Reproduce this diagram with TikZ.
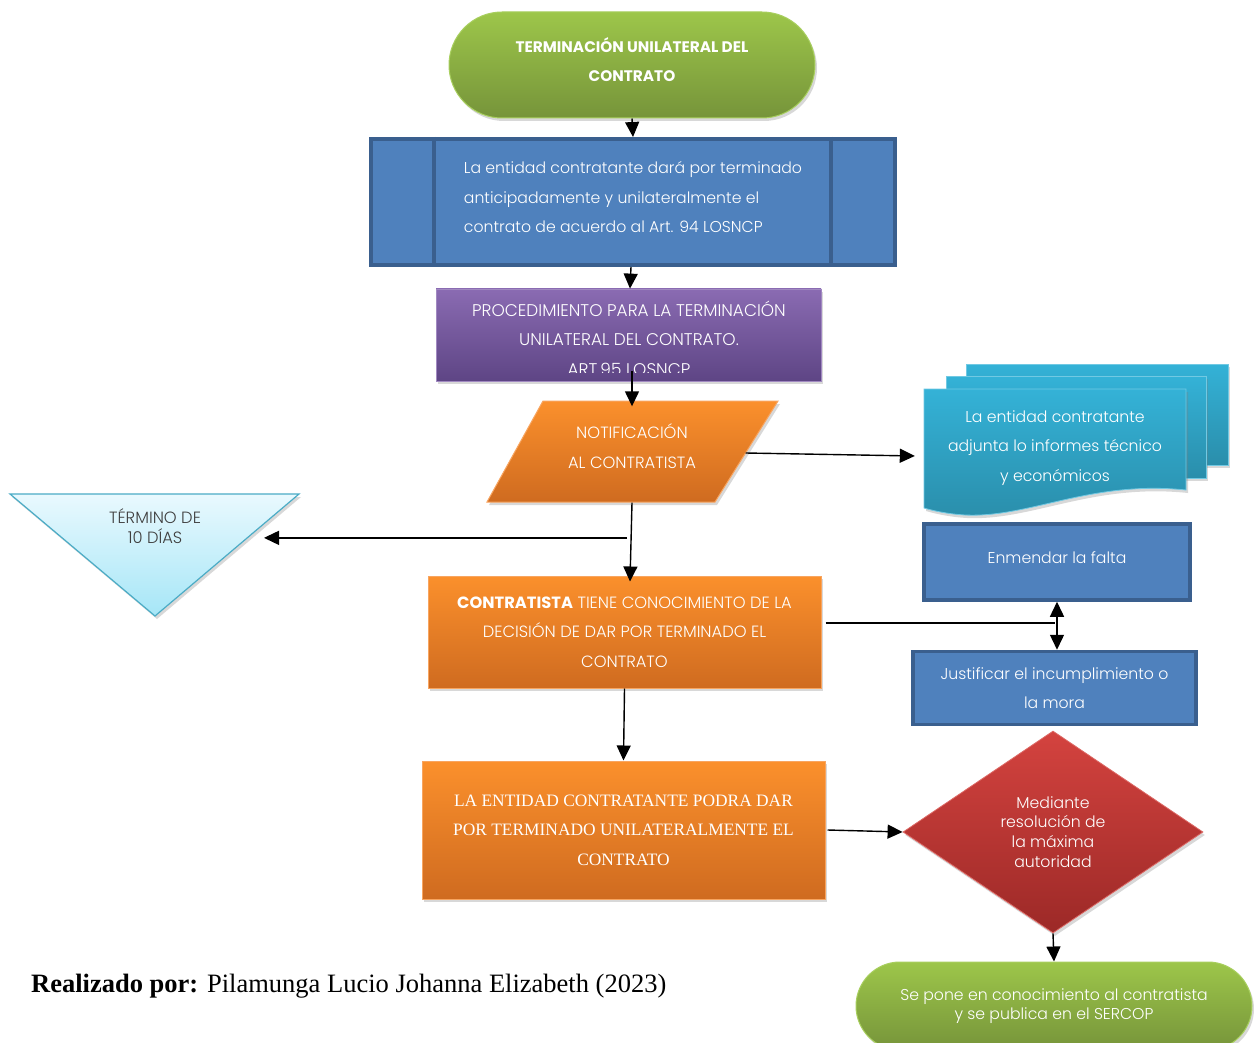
\documentclass[tikz,border=0pt]{standalone}
\usepackage{fontspec}
\setmainfont{Poppins}[UprightFont=* Light, BoldFont=* Bold]
\newfontfamily\serif{Liberation Serif}
\usetikzlibrary{arrows.meta,shapes.geometric,shadows,calc}
\definecolor{grtop}{HTML}{9DC64A}
\definecolor{grbot}{HTML}{76943A}
\definecolor{grline}{HTML}{A8CF5E}
\definecolor{bfill}{HTML}{4F81BD}
\definecolor{bline}{HTML}{3A5F8E}
\definecolor{pttop}{HTML}{8A6BB2}
\definecolor{ptbot}{HTML}{5E4585}
\definecolor{ortop}{HTML}{FB902C}
\definecolor{orbot}{HTML}{CF6B20}
\definecolor{orline}{HTML}{F8A560}
\definecolor{rdtop}{HTML}{D4433F}
\definecolor{rdbot}{HTML}{9C2927}
\definecolor{cytop}{HTML}{34B2D7}
\definecolor{cybot}{HTML}{2A8EAB}
\definecolor{tritop}{HTML}{E9F9FE}
\definecolor{tribot}{HTML}{A6E6F7}
\definecolor{triline}{HTML}{4BACC6}
\definecolor{txtgray}{HTML}{3F3F3F}
\begin{document}
\begin{tikzpicture}[x=1pt,y=-1pt,
  myshadow/.style={drop shadow={shadow xshift=2pt,shadow yshift=-3pt,opacity=0.3}},
  body/.style={font={\fontsize{15.7}{29.5}\selectfont}},
  caps/.style={font={\fontsize{16.3}{29.5}\selectfont}},
  txtw/.style={text=white, align=center, body, inner sep=0pt},
  greenterm/.style={txtw, top color=grtop, bottom color=grbot, draw=grline, line width=1pt, myshadow},
  bluebox/.style={txtw, fill=bfill, draw=bline, line width=4pt},
  purplebox/.style={top color=pttop, bottom color=ptbot, draw=pttop!80!white, line width=0.8pt, myshadow},
  orangebox/.style={txtw, top color=ortop, bottom color=orbot, draw=orline, line width=1pt, myshadow},
  orangeshape/.style={top color=ortop, bottom color=orbot, draw=orline, line width=1pt, myshadow},
  cyanshape/.style={top color=cytop, bottom color=cybot, draw=cytop!70!white, line width=0.8pt, myshadow},
  arr/.style={-{Triangle[length=15pt,width=14pt]}, line width=1.4pt},
  darr/.style={{Triangle[length=15pt,width=14pt]}-{Triangle[length=15pt,width=14pt]}, line width=1.4pt},
  plain/.style={line width=1.4pt}
]
\useasboundingbox (0,0) rectangle (1254,1043);
\fill[white] (0,0) rectangle (1254,1043);

% top terminator
\node[greenterm, minimum width=366pt, minimum height=106pt, rounded corners=53pt, text depth=10pt,
  font={\bfseries\fontsize{15.3}{29}\selectfont}] (start) at (632,65) {TERMINACIÓN UNILATERAL DEL\\CONTRATO};

% predefined process box
\node[bluebox, minimum width=524pt, minimum height=126pt, align=left, text depth=10pt] (art94) at (633,202)
  {La entidad contratante dará por terminado\\anticipadamente y unilateralmente el\\contrato de acuerdo al Art. 94 LOSNCP};
\draw[bline, line width=4pt] ([xshift=65pt]art94.north west) -- ([xshift=65pt]art94.south west);
\draw[bline, line width=4pt] ([xshift=-66pt]art94.north east) -- ([xshift=-66pt]art94.south east);

% purple box
\node[purplebox, minimum width=385pt, minimum height=92pt] (proc) at (628.5,335) {};
\begin{scope}
  \clip (proc.north west) rectangle ([yshift=9pt]proc.south east);
  \node[txtw, font={\fontsize{16.9}{29.5}\selectfont}] (proctxt) at (629,338) {PROCEDIMIENTO PARA LA TERMINACIÓN\\UNILATERAL DEL CONTRATO.\\ART.95 LOSNCP};
\end{scope}

% parallelogram
\path[orangeshape] (543,401) -- (778,401) -- (715,502) -- (487,502) -- cycle;
\node[txtw, caps, minimum width=291pt, minimum height=101pt, text depth=8pt] (notif) at (632,450) {NOTIFICACIÓN\\AL CONTRATISTA};

% multi document
\path[cyanshape] (966,364) -- (1228,364) -- (1228,465) -- (966,465) -- cycle;
\path[cyanshape] (946,376) -- (1206,376) -- (1206,478) -- (946,478) -- cycle;
\path[cyanshape] (924,389) -- (1186,389) -- (1186,490)
  .. controls (1090,480) and (1030,518) .. (965,515)
  .. controls (948,514) and (934,511) .. (924,508) -- cycle;
\node[txtw, minimum width=262pt, minimum height=100pt] (doc) at (1055,448)
  {La entidad contratante\\adjunta lo informes técnico\\y económicos};

% triangle
\path[top color=tritop, bottom color=tribot, draw=triline, line width=1.2pt, myshadow]
  (10,494) -- (299,494) -- (155,616) -- cycle;
\node[text=txtgray, align=center, inner sep=0pt, font={\fontsize{16.3}{20}\selectfont}] (term) at (155,526) {TÉRMINO DE\\10 DÍAS};
\coordinate (termtip) at (264,540);

% contratista box
\node[orangebox, caps, minimum width=393pt, minimum height=112pt] (cono) at (624.5,632)
  {\textbf{CONTRATISTA} TIENE CONOCIMIENTO DE LA\\DECISIÓN DE DAR POR TERMINADO EL\\CONTRATO};

% enmendar / justificar
\node[bluebox, line width=3.5pt, minimum width=266pt, minimum height=76pt, text depth=8pt] (enm) at (1057,562) {Enmendar la falta};
\node[bluebox, line width=3.5pt, minimum width=283pt, minimum height=73pt] (jus) at (1054.5,688) {Justificar el incumplimiento o\\la mora};
\coordinate (hj) at (1055,623);

% entidad box
\node[orangebox, minimum width=403pt, minimum height=138pt,
  font={\serif\fontsize{17.4}{29.5}\selectfont}] (ent) at (623.5,830)
  {LA ENTIDAD CONTRATANTE PODRA DAR\\POR TERMINADO UNILATERALMENTE EL\\CONTRATO};

% diamond
\node[diamond, aspect=1.5, top color=rdtop, bottom color=rdbot, draw=rdtop!80!white, line width=0.8pt, myshadow,
  minimum width=300pt, minimum height=202pt, text=white, align=center, inner sep=0pt,
  font={\fontsize{15.7}{19.7}\selectfont}] (dia) at (1053,832) {Mediante\\resolución de\\la máxima\\autoridad};

% final terminator
\node[greenterm, minimum width=396pt, minimum height=88pt, rounded corners=44pt,
  font={\fontsize{15.7}{19}\selectfont}] (fin) at (1054,1006) {Se pone en conocimiento al contratista\\y se publica en el SERCOP};

% caption
\node[anchor=base west, inner sep=0pt, font={\serif\fontsize{26.5}{30}\selectfont}] (cap) at (31,992)
  {\textbf{Realizado por:} Pilamunga Lucio Johanna Elizabeth (2023)};

% connectors
\draw[arr] (start.south) -- (art94.north);
\draw[arr] ([xshift=-2pt]art94.south) -- ([xshift=1.5pt]proc.north);
\draw[arr] ([xshift=3.5pt,yshift=10pt]proc.south) -- ([yshift=-7pt]notif.north);
\draw[arr] ([xshift=-32pt,yshift=-3pt]notif.east) -- ([xshift=-9pt,yshift=-8pt]doc.west);
\draw[arr] ([yshift=-2pt]notif.south) -- ([xshift=5.5pt,yshift=-6pt]cono.north);
\coordinate (br) at ($(notif.south)!0.46!([xshift=5.5pt,yshift=-6pt]cono.north)$);
\draw[arr] ([xshift=-4pt]br) -- (br -| termtip);
\draw[plain] ([xshift=4pt,yshift=9pt]cono.east) -- (hj);
\draw[darr] (enm.south) -- (enm.south |- jus.north);
\draw[arr] (cono.south) -- (ent.north);
\draw[arr] ([xshift=2pt]ent.east) -- (dia.west);
\draw[arr] (dia.south) -- (fin.north);
\end{tikzpicture}
\end{document}
